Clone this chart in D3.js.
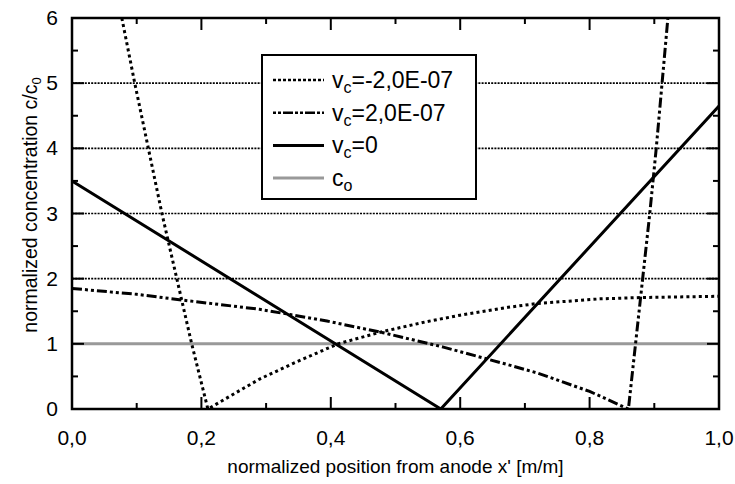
<!DOCTYPE html>
<html><head><meta charset="utf-8">
<script src="https://cdn.jsdelivr.net/npm/d3@7"></script>
<style>body{margin:0;background:#fff}svg{display:block}text{font-family:"Liberation Sans",Arial,sans-serif;fill:#000}</style>
</head><body><svg id="c" width="735" height="484"></svg>
<script>
// data
const xTicks = [0, 0.2, 0.4, 0.6, 0.8, 1.0];
const xTickLabels = ["0,0", "0,2", "0,4", "0,6", "0,8", "1,0"];
const yTicks = [0, 1, 2, 3, 4, 5, 6];
const gridValues = [2, 3, 4, 5];
const c0Value = 1;
// v_c = -2,0E-07 (dotted)
const negX = [0.077, 0.097, 0.118, 0.139, 0.162, 0.185, 0.210, 0.290, 0.342, 0.411, 0.481, 0.548, 0.600, 0.674, 0.720, 0.816, 0.878, 1.000];
const negY = [6.0, 5.0, 4.0, 3.0, 2.0, 1.0, 0.0, 0.46, 0.70, 1.00, 1.19, 1.34, 1.44, 1.56, 1.62, 1.69, 1.71, 1.73];
// v_c = 2,0E-07 (dash-dot)
const posX = [0.0, 0.1, 0.172, 0.29, 0.337, 0.394, 0.481, 0.574, 0.674, 0.720, 0.80, 0.860, 0.871, 0.882, 0.893, 0.903, 0.912, 0.921];
const posY = [1.85, 1.76, 1.67, 1.53, 1.45, 1.35, 1.17, 0.95, 0.68, 0.55, 0.27, 0.0, 1.0, 2.0, 3.0, 4.0, 5.0, 6.0];
// v_c = 0 (solid)
const zeroX = [0.0, 0.570, 1.0];
const zeroY = [3.5, 0.0, 4.65];
const legendLabels = [["v","c","=-2,0E-07"],["v","c","=2,0E-07"],["v","c","=0"],["c","o",""]];

const W = 735, H = 484;
const m = {l:72, t:18, r:16, b:75};
const iw = W - m.l - m.r, ih = H - m.t - m.b;
const svg = d3.select("#c");
const x = d3.scaleLinear().domain([0,1]).range([m.l, m.l+iw]);
const y = d3.scaleLinear().domain([0,6]).range([m.t+ih, m.t]);

svg.append("defs").append("clipPath").attr("id","clip")
  .append("rect").attr("x",m.l).attr("y",m.t).attr("width",iw).attr("height",ih);

// grid
svg.append("g").selectAll("line").data(gridValues).join("line")
  .attr("x1",m.l).attr("x2",m.l+iw).attr("y1",d=>y(d)).attr("y2",d=>y(d))
  .attr("stroke","#000").attr("stroke-width",1.6).attr("stroke-dasharray","2,1.2");

// c0 line
svg.append("line").attr("x1",m.l).attr("x2",m.l+iw).attr("y1",y(c0Value)).attr("y2",y(c0Value))
  .attr("stroke","#999").attr("stroke-width",3);

const line = d3.line().x(d=>x(d[0])).y(d=>y(d[1]));
const g = svg.append("g").attr("clip-path","url(#clip)");
const series = [
  {xs:negX, ys:negY, dash:"3,3.2"},
  {xs:posX, ys:posY, dash:"10,3,3,3,3,3"},
  {xs:zeroX, ys:zeroY, dash:null}
];
series.forEach(s=>{
  g.append("path").datum(s.xs.map((v,i)=>[v,s.ys[i]]))
   .attr("d",line).attr("fill","none").attr("stroke","#000").attr("stroke-width",3)
   .attr("stroke-dasharray",s.dash);
});

// axes: ticks inside
const axG = svg.append("g");
const xMinor = d3.range(0,1.0001,0.1);
const yMinor = d3.range(0,6.0001,0.5);
function isMajorX(v){return Math.abs(v*5-Math.round(v*5))<1e-6;}
function isMajorY(v){return Math.abs(v-Math.round(v))<1e-6;}
xMinor.forEach(v=>{
  const L = isMajorX(v)?12:6;
  axG.append("line").attr("x1",x(v)).attr("x2",x(v)).attr("y1",y(0)).attr("y2",y(0)-L).attr("stroke","#000").attr("stroke-width",2);
  axG.append("line").attr("x1",x(v)).attr("x2",x(v)).attr("y1",y(6)).attr("y2",y(6)+L).attr("stroke","#000").attr("stroke-width",2);
});
yMinor.forEach(v=>{
  const L = isMajorY(v)?12:6;
  axG.append("line").attr("x1",x(0)).attr("x2",x(0)+L).attr("y1",y(v)).attr("y2",y(v)).attr("stroke","#000").attr("stroke-width",2);
  axG.append("line").attr("x1",x(1)).attr("x2",x(1)-L).attr("y1",y(v)).attr("y2",y(v)).attr("stroke","#000").attr("stroke-width",2);
});
svg.append("rect").attr("x",m.l).attr("y",m.t).attr("width",iw).attr("height",ih)
  .attr("fill","none").attr("stroke","#000").attr("stroke-width",2.5);

// tick labels
svg.append("g").selectAll("text").data(xTicks).join("text")
  .attr("x",d=>x(d)).attr("y",y(0)+36).attr("text-anchor","middle").attr("font-size",21)
  .text((d,i)=>xTickLabels[i]);
svg.append("g").selectAll("text").data(yTicks).join("text")
  .attr("x",m.l-14).attr("y",d=>y(d)+7).attr("text-anchor","end").attr("font-size",21)
  .text(d=>d);

// axis titles
svg.append("text").attr("x",x(0.5)).attr("y",473).attr("text-anchor","middle").attr("font-size",19)
  .text("normalized position from anode x' [m/m]");
const yt = svg.append("text").attr("transform",`translate(37,205) rotate(-90)`)
  .attr("text-anchor","middle").attr("font-size",19.5);
yt.append("tspan").text("normalized concentration c/c");
yt.append("tspan").attr("font-size",13).attr("dy",4).text("0");

// legend
const lg = svg.append("g");
lg.append("rect").attr("x",262).attr("y",55).attr("width",214).attr("height",144)
  .attr("fill","#fff").attr("stroke","#000").attr("stroke-width",2);
const legStyles = [
  {dash:"3,2", color:"#000", w:2.5},
  {dash:"3,2,3,2,10,2", color:"#000", w:2.5},
  {dash:null, color:"#000", w:3},
  {dash:null, color:"#999", w:3}
];
legendLabels.forEach((lab,i)=>{
  const cy = 80 + i*32.7;
  lg.append("line").attr("x1",273).attr("x2",324).attr("y1",cy).attr("y2",cy)
    .attr("stroke",legStyles[i].color).attr("stroke-width",legStyles[i].w).attr("stroke-dasharray",legStyles[i].dash);
  const t = lg.append("text").attr("x",332).attr("y",cy+8).attr("font-size",23);
  t.append("tspan").text(lab[0]);
  t.append("tspan").attr("font-size",16).attr("dy",5).text(lab[1]);
  if(lab[2]) t.append("tspan").attr("dy",-5).text(lab[2]);
});
</script></body></html>
